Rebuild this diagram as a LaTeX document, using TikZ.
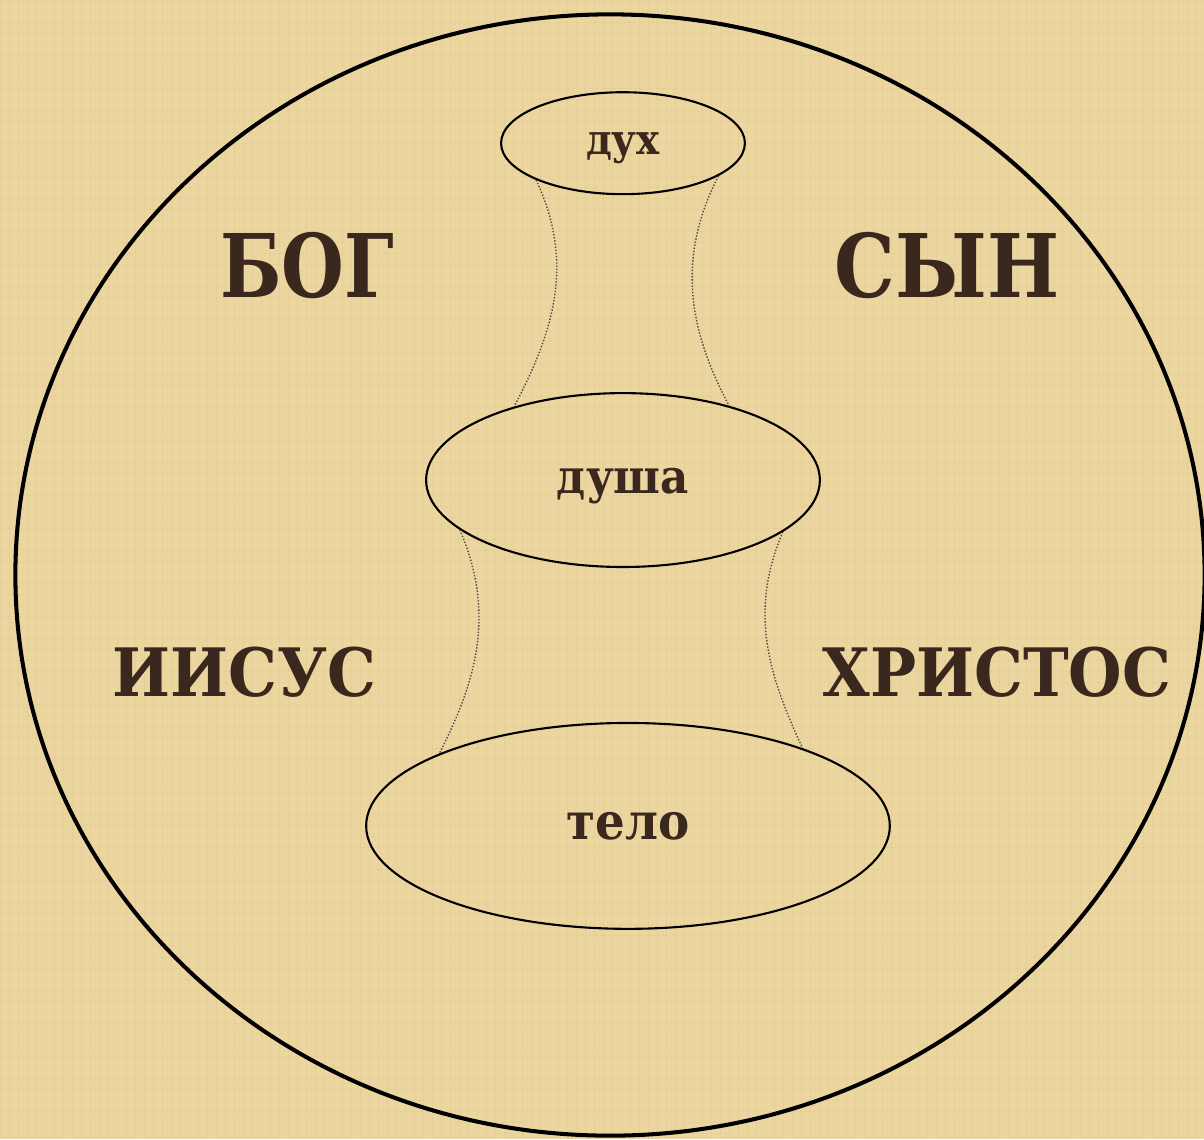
\documentclass[tikz,border=0pt]{standalone}
\usepackage{fontspec}
\setmainfont{DejaVu Serif}
\newfontfamily\slavfont[FakeStretch=0.92]{DejaVu Serif}
\newfontfamily\slavnarrow[FakeStretch=0.82]{DejaVu Serif}
\newfontfamily\slavmid[FakeStretch=0.87]{DejaVu Serif}
\usetikzlibrary{shapes.geometric}

\definecolor{paper}{RGB}{236,214,160}
\definecolor{fibre}{RGB}{190,160,100}
\definecolor{inkbrown}{RGB}{58,40,30}
\definecolor{thread}{RGB}{80,74,68}

\begin{document}
\begin{tikzpicture}[
  x=0.02cm, y=-0.02cm,
  godname/.style={font=\slavfont\bfseries\fontsize{50pt}{50pt}\selectfont, text=inkbrown, inner sep=0pt},
  longgodname/.style={godname, font=\slavfont\bfseries\fontsize{38pt}{38pt}\selectfont},
  part/.style={ellipse, draw=black, line width=1.2pt, inner sep=0pt, text=inkbrown, text depth=0pt},
  link/.style={draw=thread, line width=0.8pt, densely dotted}
]

%% paper background with a faint woven texture
\fill[paper] (0,0) rectangle (1204,1139);
\foreach \x in {0,9,...,1204}
  \draw[fibre, opacity=0.12, line width=0.3pt] (\x,0) -- (\x,1139);
\foreach \y in {0,11,...,1139}
  \draw[fibre, opacity=0.10, line width=0.3pt] (0,\y) -- (1204,\y);
\useasboundingbox (0,0) rectangle (1204,1139);

%% outer circle
\node[ellipse, draw=black, line width=2.3pt, minimum width=23.8cm, minimum height=22.44cm] (world) at (610,575) {};

%% the four names
\node[godname, font=\slavnarrow\bfseries\fontsize{50pt}{50pt}\selectfont] (bog) at (307,265) {БОГ};
\node[godname, font=\slavmid\bfseries\fontsize{50pt}{50pt}\selectfont]    (syn) at (947,265) {СЫН};
\node[longgodname] (iisus)   at (244,672) {ИИСУС};
\node[longgodname] (hristos) at (997,672) {ХРИСТОС};

%% spirit, soul, body
\node[part, minimum width=4.88cm, minimum height=2.04cm, text height=12.5pt,
  font=\slavfont\bfseries\fontsize{24pt}{24pt}\selectfont] (duh) at (623,143) {дух};
\node[part, minimum width=7.88cm, minimum height=3.48cm, text height=15.5pt,
  font=\slavfont\bfseries\fontsize{27pt}{27pt}\selectfont] (dusha) at (623,480) {душа};
\node[part, minimum width=10.48cm, minimum height=4.12cm, text height=15.5pt,
  font=\slavfont\bfseries\fontsize{29pt}{29pt}\selectfont] (telo) at (628,826) {тело};

%% thin links between them
\draw[link] (duh.203) to[out=-65, in=62] (dusha.146);
\draw[link] (duh.341) to[out=243, in=118] (dusha.35);
\draw[link] (dusha.197) to[out=-67, in=63] (telo.159);
\draw[link] (dusha.342) to[out=247, in=115] (telo.24);

\end{tikzpicture}
\end{document}
